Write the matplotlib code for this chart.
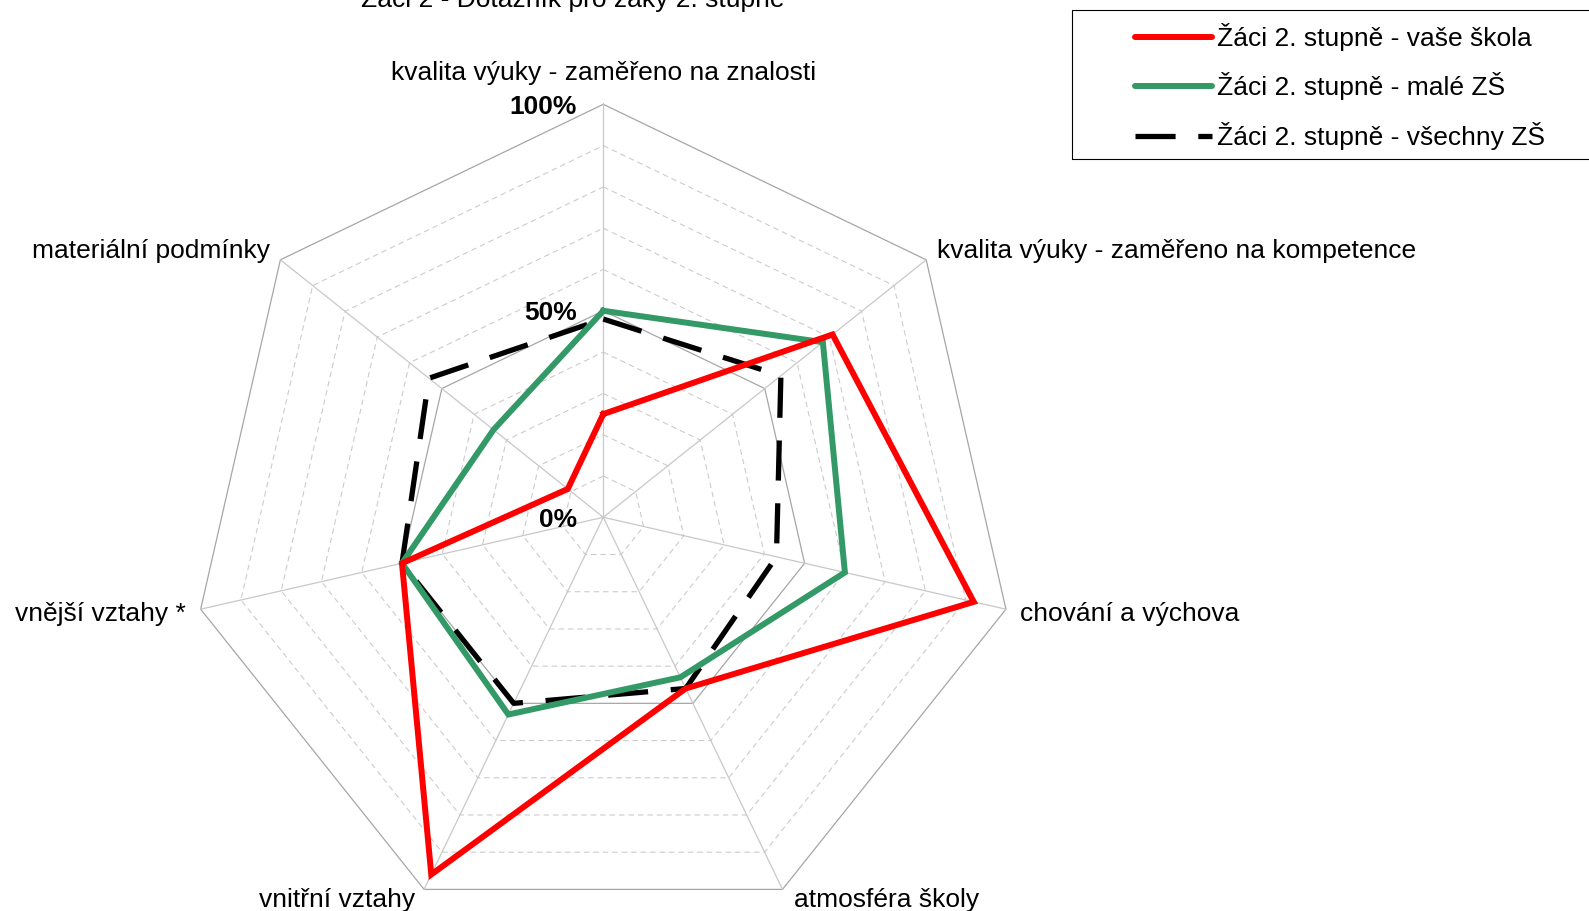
import numpy as np
import matplotlib
matplotlib.use('Agg')
import matplotlib.pyplot as plt
from matplotlib.lines import Line2D
from matplotlib.patches import Rectangle

plt.rcParams['font.family'] = ['Liberation Sans', 'DejaVu Sans']

# data (podíl, 0-1)
categories = ['kvalita výuky - zaměřeno na znalosti',
              'kvalita výuky - zaměřeno na kompetence',
              'chování a výchova',
              'atmosféra školy',
              'vnitřní vztahy',
              'vnější vztahy *',
              'materiální podmínky']
vase_skola = [0.25, 0.71, 0.92, 0.46, 0.96, 0.50, 0.11]
male_zs = [0.50, 0.68, 0.60, 0.43, 0.53, 0.50, 0.34]
vsechny_zs = [0.48, 0.55, 0.43, 0.46, 0.50, 0.50, 0.54]
series_names = ['Žáci 2. stupně - vaše škola',
                'Žáci 2. stupně - malé ZŠ',
                'Žáci 2. stupně - všechny ZŠ']
tick_values = [0.0, 0.5, 1.0]
tick_labels = ['0%', '50%', '100%']
title = 'Žáci 2 - Dotazník pro žáky 2. stupně'

W, H = 1589, 911
cx, cy, R = 603.3, 517.3, 413.0   # střed a poloměr v pixelech
FS = 19

fig = plt.figure(figsize=(W / 100, H / 100), dpi=100)
ax = fig.add_axes([0, 0, 1, 1])
ax.set_xlim(-cx / R, (W - cx) / R)
ax.set_ylim(-(H - cy) / R, cy / R)
ax.axis('off')

n = len(categories)
ang = np.deg2rad(90 - np.arange(n) * 360.0 / n)
ca, sa = np.cos(ang), np.sin(ang)

def closed(v):
    v = np.asarray(v, dtype=float)
    return np.append(v * ca, v[0] * ca[0]), np.append(v * sa, v[0] * sa[0])

# mřížka
for k in range(1, 11):
    r = k / 10
    xs, ys = closed([r] * n)
    if k % 5 == 0:
        ax.plot(xs, ys, color='#a6a6a6', lw=0.9, zorder=1)
    else:
        ax.plot(xs, ys, color='#cccccc', lw=0.8, dashes=(5, 3.5), zorder=1)
for i in range(n):
    ax.plot([0, ca[i]], [0, sa[i]], color='#c8c8c8', lw=0.9, zorder=1)

# série
xs, ys = closed(vsechny_zs)
ax.plot(xs, ys, color='black', lw=3.8, dashes=(7.6, 4.3), zorder=3, solid_joinstyle='miter')
xs, ys = closed(male_zs)
ax.plot(xs, ys, color='#339966', lw=4.3, zorder=4, solid_joinstyle='miter')
xs, ys = closed(vase_skola)
ax.plot(xs, ys, color='#ff0000', lw=4.3, zorder=5, solid_joinstyle='miter')

# popisky os
lab_pos = [(0.0, 1.076, 'center'), (0.807, 0.644, 'left'), (1.010, -0.234, 'left'),
           (0.686, -0.927, 'center'), (-0.645, -0.927, 'center'),
           (-1.0116, -0.234, 'right'), (-0.808, 0.644, 'right')]
for name, (x, y, ha) in zip(categories, lab_pos):
    ax.text(x, y, name, ha=ha, va='center', fontsize=FS)

for v, t in zip(tick_values, tick_labels):
    ax.text(-0.064, v - 0.006, t, ha='right', va='center', fontsize=FS, fontweight='bold')

ax.text(-0.074, 1.235, title, ha='center', va='baseline', fontsize=FS)

# legenda
handles = [Line2D([], [], color='#ff0000', lw=4.3, solid_capstyle='round'),
           Line2D([], [], color='#339966', lw=4.3, solid_capstyle='round'),
           Line2D([], [], color='black', lw=3.8, dashes=(7.6, 4.3))]
fig.legend(handles, series_names, loc='upper left',
           bbox_to_anchor=(1135 / W, 1 - 23 / H), frameon=False,
           borderpad=0, borderaxespad=0, handlelength=2.92, handletextpad=0.2,
           labelspacing=0.81, fontsize=FS)
fig.patches.append(Rectangle((1072 / W, 1 - 159 / H), 0.5, 149 / H,
                             transform=fig.transFigure, fill=False,
                             edgecolor='black', lw=0.8))

fig.savefig('out.png', dpi=100)
